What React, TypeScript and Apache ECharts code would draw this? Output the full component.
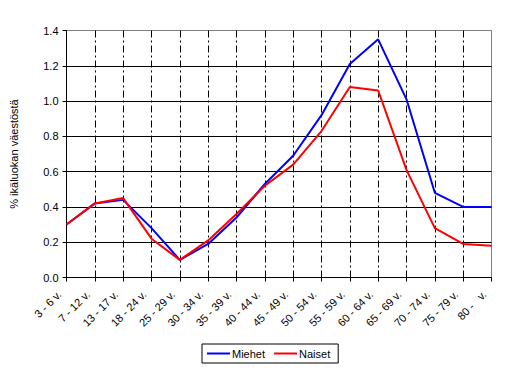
import React, { useEffect, useRef } from "react";
import * as echarts from "echarts";

const categories = [
  "3 - 6 v.", "7 - 12 v.", "13 - 17 v.", "18 - 24 v.", "25 - 29 v.", "30 - 34 v.",
  "35 - 39 v.", "40 - 44 v.", "45 - 49 v.", "50 - 54 v.", "55 - 59 v.", "60 - 64 v.",
  "65 - 69 v.", "70 - 74 v.", "75 - 79 v.", "80 -   v.",
];
const miehet = [0.30, 0.42, 0.44, 0.28, 0.10, 0.19, 0.34, 0.53, 0.69, 0.92, 1.21, 1.35, 1.01, 0.48, 0.40, 0.40];
const naiset = [0.30, 0.42, 0.45, 0.22, 0.10, 0.21, 0.36, 0.52, 0.64, 0.83, 1.08, 1.06, 0.61, 0.28, 0.19, 0.18];
const yTitle = "% ikäluokan väestöstä";

const FONT = "Liberation Sans, Arial, sans-serif";

export default function App() {
  const ref = useRef<HTMLDivElement>(null);
  useEffect(() => {
    const chart = echarts.init(ref.current!, null, { renderer: "svg" });
    const yColors = ["#000", "#000", "#000", "#000", "#000", "#000", "#000", "#808080"];
    const xColors = categories.map((_, i) => (i === categories.length - 1 ? "rgba(0,0,0,0)" : "#000"));
    chart.setOption({
      animation: false,
      backgroundColor: "#fff",
      textStyle: { fontFamily: FONT },
      grid: {
        left: 66.5,
        right: 14.5,
        top: 30.5,
        bottom: 96.5,
        show: true,
        borderColor: "#808080",
        borderWidth: 1,
        backgroundColor: "transparent",
      },
      legend: {
        data: ["Miehet", "Naiset"],
        left: 202,
        top: 344,
        orient: "horizontal",
        padding: [4, 8, 4, 5],
        borderColor: "#000",
        borderWidth: 1,
        itemWidth: 23,
        itemHeight: 2,
        itemGap: 9,
        icon: "rect",
        textStyle: { fontFamily: FONT, fontSize: 11, color: "#000", padding: [0, 0, 0, -3] },
      },
      xAxis: {
        type: "category",
        data: categories,
        boundaryGap: false,
        axisLine: { lineStyle: { color: "#000", width: 1 } },
        axisTick: { show: true, length: 4, lineStyle: { color: "#000" } },
        axisLabel: {
          rotate: 45,
          interval: 0,
          margin: 8,
          padding: [0, 10, 0, 0],
          fontSize: 11,
          fontFamily: FONT,
          color: "#000",
        },
        splitLine: {
          show: true,
          lineStyle: { color: xColors, type: [7, 3, 2, 3], width: 1 },
        },
      },
      yAxis: {
        type: "value",
        min: 0,
        max: 1.4,
        interval: 0.2,
        name: yTitle,
        nameLocation: "middle",
        nameRotate: 90,
        nameGap: 47,
        nameTextStyle: { fontFamily: FONT, fontSize: 11, color: "#000" },
        axisLine: { show: true, lineStyle: { color: "#000", width: 1 } },
        axisTick: { show: true, length: 4, lineStyle: { color: "#000" } },
        axisLabel: {
          margin: 8,
          fontSize: 11,
          fontFamily: FONT,
          color: "#000",
          formatter: (v: number) => v.toFixed(1),
        },
        splitLine: { show: true, lineStyle: { color: yColors, width: 1 } },
      },
      series: [
        {
          name: "Miehet",
          type: "line",
          data: miehet,
          symbol: "none",
          lineStyle: { color: "#0000ff", width: 2 },
          itemStyle: { color: "#0000ff" },
        },
        {
          name: "Naiset",
          type: "line",
          data: naiset,
          symbol: "none",
          lineStyle: { color: "#ff0000", width: 2 },
          itemStyle: { color: "#ff0000" },
        },
      ],
    });
    return () => chart.dispose();
  }, []);
  return (
    <div
      ref={ref}
      style={{ position: "fixed", left: 0, top: 0, width: 506, height: 374 }}
    />
  );
}
